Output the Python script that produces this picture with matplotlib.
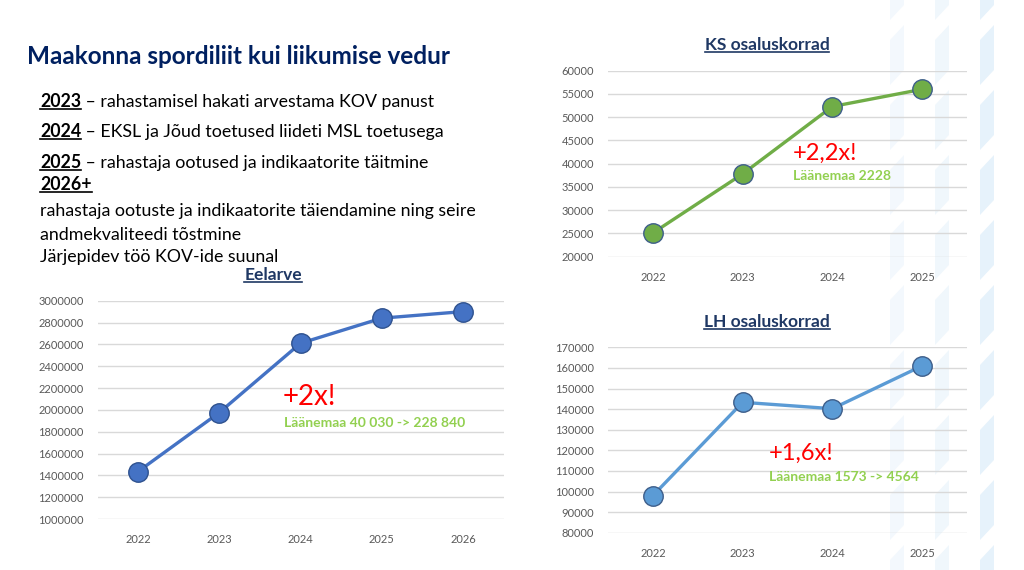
#!/usr/bin/env python
'''
Maakonna spordiliit - eelarve ja osaluskorrad 2022-2026
'''
import matplotlib
matplotlib.use('Agg')
import matplotlib.pyplot as plt
from matplotlib.lines import Line2D
from matplotlib.patches import Polygon
from matplotlib.ticker import FuncFormatter

W, H = 1024, 570
NAVY = '#1F3864'
GREEN_TXT = '#92D050'
TICK = '#595959'
GRID = '#D9D9D9'

# data
budget_years = ['2022', '2023', '2024', '2025', '2026']
budget = [1435000, 1975000, 2610000, 2840000, 2900000]
ks_years = ['2022', '2023', '2024', '2025']
ks = [25100, 37800, 52300, 56000]
lh_years = ['2022', '2023', '2024', '2025']
lh = [98000, 143300, 140200, 161000]

bullets = [('2023', ' – rahastamisel hakati arvestama KOV panust'),
           ('2024', ' – EKSL ja Jõud toetused liideti MSL toetusega'),
           ('2025', ' – rahastaja ootused ja indikaatorite täitmine'),
           ('2026+', '')]
extra_lines = ['rahastaja ootuste ja indikaatorite täiendamine ning seire',
               'andmekvaliteedi tõstmine',
               'Järjepidev töö KOV-ide suunal']

plt.rcParams['font.family'] = ['Lato', 'DejaVu Sans']

fig = plt.figure(figsize=(W / 100, H / 100), dpi=100)
fig.patch.set_facecolor('white')


def fx(x):
    return x / W


def fy(y):
    return 1 - y / H


# light blue stripes on the right edge
for x0, col in [(890, '#F3F8FD'), (935, '#F0F7FC'), (980, '#E6F2FB')]:
    for y in range(-40, H + 40, 65):
        pts = [(fx(x0), fy(y + 15)), (fx(x0 + 14), fy(y)),
               (fx(x0 + 14), fy(y + 45)), (fx(x0), fy(y + 60))]
        fig.patches.append(Polygon(pts, closed=True, transform=fig.transFigure,
                                   facecolor=col, edgecolor='none', zorder=-5))


def line_chart(rect, cats, vals, lo, hi, step, color, edge):
    ax = fig.add_axes(rect)
    ax.patch.set_alpha(0)
    x = list(range(len(cats)))
    ax.plot(x, vals, '-o', color=color, lw=2.4, ms=14, mfc=color, mec=edge,
            mew=1.0, clip_on=False, zorder=3)
    ax.set_xlim(-0.5, len(cats) - 0.5)
    ax.set_ylim(lo, hi)
    ax.set_yticks(range(lo, hi + 1, step))
    ax.yaxis.set_major_formatter(FuncFormatter(lambda v, p: '%d' % v))
    ax.set_xticks(x)
    ax.set_xticklabels(cats)
    ax.yaxis.grid(True, color=GRID, lw=1.0)
    ax.set_axisbelow(True)
    for s in ax.spines.values():
        s.set_visible(False)
    ax.tick_params(length=0, labelsize=8, colors=TICK)
    ax.tick_params(axis='x', pad=11)
    ax.tick_params(axis='y', pad=10)
    return ax


ax1 = line_chart([fx(97.5), fy(519), fx(406), 218.3 / H], budget_years, budget,
                 1000000, 3000000, 200000, '#4472C4', '#2F528F')
ax2 = line_chart([fx(608), fy(256.7), fx(359), 186 / H], ks_years, ks,
                 20000, 60000, 5000, '#70AD47', '#3E5E8A')
ax3 = line_chart([fx(608), fy(532.7), fx(359), 185.4 / H], lh_years, lh,
                 80000, 170000, 10000, '#5B9BD5', '#3E5E8A')

underlined = []

# slide title
fig.text(fx(27), fy(57), 'Maakonna spordiliit kui liikumise vedur',
         fontsize=17.5, weight='bold', color='#002060', va='center')

# chart titles
for cx, cy, s in [(273, 275, 'Eelarve'), (767, 45, 'KS osaluskorrad'),
                  (767, 322, 'LH osaluskorrad')]:
    t = fig.text(fx(cx), fy(cy), s, fontsize=12.5, weight='bold', color=NAVY,
                 ha='center', va='center')
    underlined.append((t, NAVY, 1.2))

# bullet text
fig.canvas.draw()
rend = fig.canvas.get_renderer()
base_y = [107, 137, 168, 190]
for (yr, rest), by in zip(bullets, base_y):
    t = fig.text(fx(40), fy(by), yr, fontsize=12.8, weight='bold',
                 color='black', va='baseline')
    underlined.append((t, 'black', 1.2))
    bb = t.get_window_extent(rend)
    if rest:
        fig.text(bb.x1 / W, fy(by), rest, fontsize=12.8, color='black',
                 va='baseline')
for s, by in zip(extra_lines, [216, 240, 262]):
    fig.text(fx(40), fy(by), s, fontsize=12.8, color='black', va='baseline')

# annotations
notes = [(283, 397, '+2x!', 20, 284, 423, 'Läänemaa 40 030 -> 228 840'),
         (793, 153, '+2,2x!', 17, 793, 176, 'Läänemaa 2228'),
         (769, 453, '+1,6x!', 17, 769, 477, 'Läänemaa 1573 -> 4564')]
for x1, y1, big, fs, x2, y2, small in notes:
    fig.text(fx(x1), fy(y1), big, fontsize=fs, color='#FF0000', va='center')
    fig.text(fx(x2), fy(y2), small, fontsize=10, weight='bold',
             color=GREEN_TXT, va='center')

fig.canvas.draw()
for t, col, lw in underlined:
    bb = t.get_window_extent(rend)
    yline = bb.y0 + 1
    fig.lines.append(Line2D([bb.x0 / W, bb.x1 / W], [yline / H, yline / H],
                            transform=fig.transFigure, color=col, lw=lw))

fig.savefig('out.png', dpi=100)
